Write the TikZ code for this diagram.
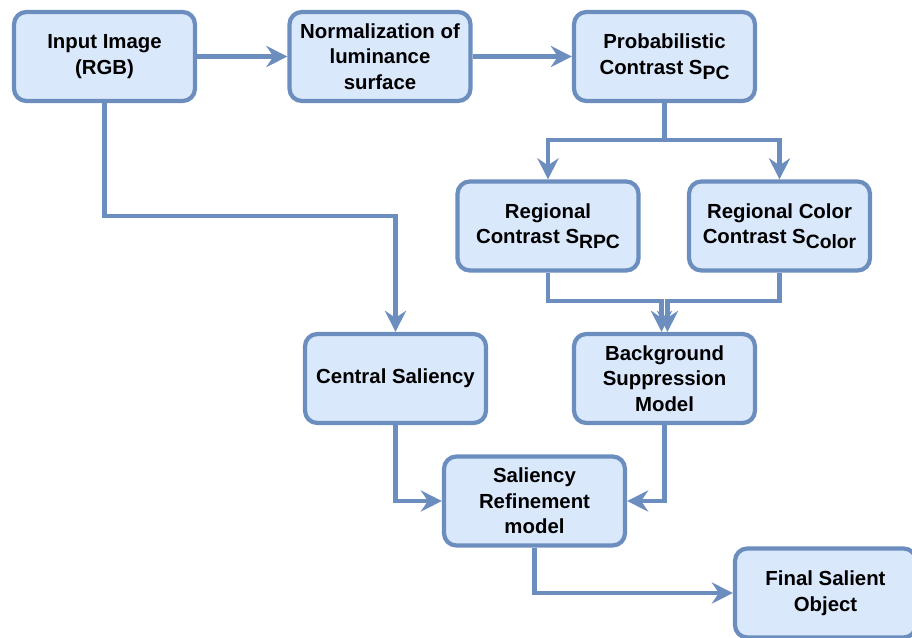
\documentclass[tikz,border=0pt]{standalone}
\usepackage{fontspec}
\setmainfont{Liberation Sans}
\usepackage{tikz}
\usetikzlibrary{arrows}
\usetikzlibrary{arrows.meta}

\definecolor{boxfill}{HTML}{DAE8FC}
\definecolor{boxline}{HTML}{6C8EBF}
\newcommand{\subtxt}[1]{\raisebox{-0.45ex}{\fontsize{11}{12}\selectfont #1}}

\begin{document}
\begin{tikzpicture}[x=0.02cm,y=-0.02cm,
			line width=2.4pt,
			main node/.style={rectangle,rounded corners=7pt,fill=boxfill,draw=boxline,
				font=\fontsize{11.6}{14.6}\selectfont\bfseries,align=center,
				minimum width=3.62cm,minimum height=1.78cm,inner sep=1pt},
			flow/.style={draw=boxline,-{Stealth[length=12pt,width=12pt,inset=4pt]}}]
			\useasboundingbox (0,0) rectangle (912,637);
			
			\node[main node] (in) at (104.5,56.5) {Input Image\\(RGB)};
			\node[main node] (nl) at (380,56.5) {Normalization of\\luminance\\surface};
			\node[main node] (pc) at (664.5,56.5) {Probabilistic\\Contrast S\subtxt{PC}};
			\node[main node] (rc) at (548,226) {Regional\\Contrast S\subtxt{RPC}};
			\node[main node] (rcc) at (779.5,226) {Regional Color\\Contrast S\subtxt{Color}};
			\node[main node] (cs) at (395.5,378.5) {Central Saliency};
			\node[main node] (bg) at (664.5,378.5) {Background\\Suppression\\Model};
			\node[main node] (sr) at (534.5,501) {Saliency\\Refinement\\model};
			\node[main node] (fs) at (825.5,593) {Final Salient\\Object};
			
			\draw[flow] (in) -- (nl);
			\draw[flow] (nl) -- (pc);
			\draw[flow] (in.south) -- ++(0,113) -| (cs.north);
			\draw[flow] (pc.south) -- ++(0,37) -| (rc.north);
			\draw[flow] (pc.south) -- ++(0,37) -| (rcc.north);
			\draw[flow] (rc.south) -- ++(0,28) -| ([xshift=-0.06cm]bg.north);
			\draw[flow] (rcc.south) -- ++(0,28) -| ([xshift=0.06cm]bg.north);
			\draw[flow] (cs.south) |- (sr.west);
			\draw[flow] (bg.south) |- (sr.east);
			\draw[flow] (sr.south) |- (fs.west);
		\end{tikzpicture}
\end{document}
